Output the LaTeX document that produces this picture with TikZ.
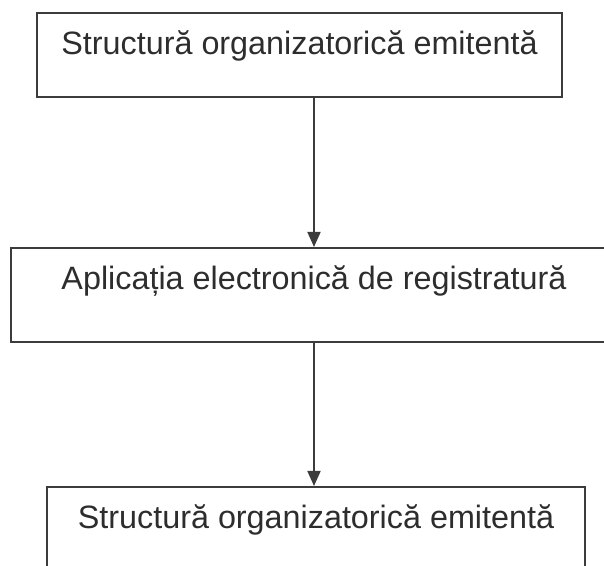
\documentclass[tikz,border=0pt]{standalone}
\usepackage{fontspec}
\setmainfont{Liberation Sans}
\usetikzlibrary{positioning, arrows.meta}

\definecolor{liniegri}{RGB}{60,60,60}
\definecolor{textgri}{RGB}{45,45,45}

\tikzset{
  bloc/.style={draw=liniegri, line width=1.2pt, rectangle, inner sep=0pt,
    text height=1.05cm, anchor=north, align=center, text=textgri,
    font=\fontsize{23}{27}\selectfont},
  sageata/.style={draw=liniegri, line width=1.2pt,
    -{Triangle[length=0.38cm, width=0.33cm]}}
}

\begin{document}
\begin{tikzpicture}

% Manually size the picture
\clip (0, 0) rectangle (15.1, -14.15);

% Emitting structure
\node[bloc, minimum width=13.125cm, text depth=1.05cm] (emitent) at (7.4875, -0.3) {Structură organizatorică emitentă};

% Registry application
\node[bloc, minimum width=15.15cm, text depth=1.3cm] (aplicatie) at (7.85, -6.175) {Aplicația electronică de registratură};

% Receiving structure
\node[bloc, minimum width=13.45cm, text depth=1.175cm] (destinatar) at (7.9, -12.15) {Structură organizatorică emitentă};

% Arrows
\draw[sageata] (emitent.south -| aplicatie.north) -- (aplicatie.north);
\draw[sageata] (aplicatie.south) -- (aplicatie.south |- destinatar.north);

\end{tikzpicture}
\end{document}
